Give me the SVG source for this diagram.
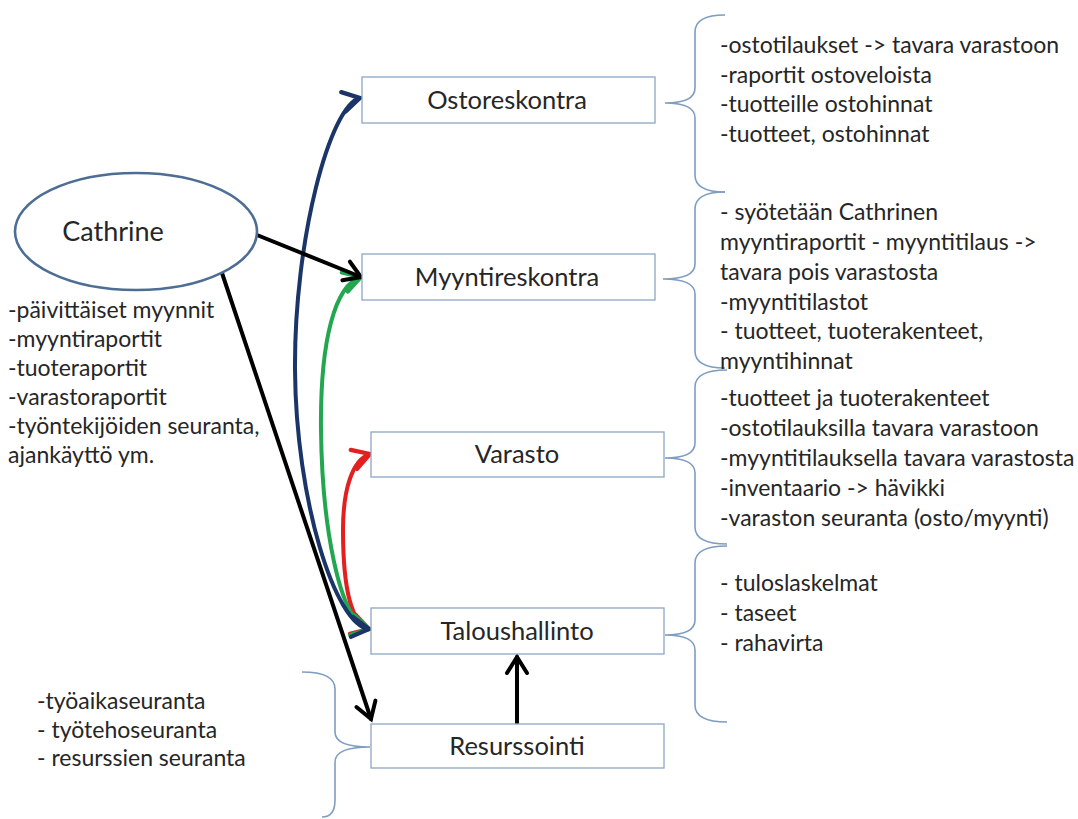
<svg xmlns="http://www.w3.org/2000/svg" width="1078" height="819" viewBox="0 0 1078 819">
  <style>
    .txt { font-family: Lato, "Liberation Sans", sans-serif; font-size: 23px; fill: #262626; }
    .lbl { font-family: Lato, "Liberation Sans", sans-serif; font-size: 25.5px; fill: #262626; text-anchor: middle; }
    .box { fill: #ffffff; stroke: #8ea6c4; stroke-width: 1.3; }
    .brace { fill: none; stroke: #7f9dc0; stroke-width: 1.6; }
    .arr { fill: none; stroke-width: 4; stroke-linecap: round; }
  </style>
  <defs>
    <marker id="headK" markerUnits="userSpaceOnUse" viewBox="-24 -16 32 32" markerWidth="32" markerHeight="32" refX="0" refY="0" orient="auto-start-reverse">
      <path d="M-16,-10 L0,0 L-16,10" fill="none" stroke="#000000" stroke-width="4" stroke-linecap="round"/>
    </marker>
    <marker id="headB" markerUnits="userSpaceOnUse" viewBox="-24 -16 32 32" markerWidth="32" markerHeight="32" refX="0" refY="0" orient="auto-start-reverse">
      <path d="M-17,-10 L0,0 L-17,10" fill="none" stroke="#1b3568" stroke-width="4.2" stroke-linecap="round"/>
    </marker>
    <marker id="headG" markerUnits="userSpaceOnUse" viewBox="-24 -16 32 32" markerWidth="32" markerHeight="32" refX="0" refY="0" orient="auto-start-reverse">
      <path d="M-17,-10 L0,0 L-17,10" fill="none" stroke="#22a64f" stroke-width="4.2" stroke-linecap="round"/>
    </marker>
    <marker id="headR" markerUnits="userSpaceOnUse" viewBox="-24 -16 32 32" markerWidth="32" markerHeight="32" refX="0" refY="0" orient="auto-start-reverse">
      <path d="M-17,-10 L0,0 L-17,10" fill="none" stroke="#e3201f" stroke-width="4.2" stroke-linecap="round"/>
    </marker>
  </defs>

  <rect width="1078" height="819" fill="#ffffff"/>

  <!-- brackets tying each module to its notes -->
  <g id="braces">
    <path class="brace" d="M725,15 Q695,15 695,32 L695,88 Q695,103 665,103 Q695,103 695,118 L695,175 Q695,192 725,192"/>
    <path class="brace" d="M725,192 Q695,192 695,209 L695,264 Q695,279 663,279 Q695,279 695,294 L695,351 Q695,368 725,368"/>
    <path class="brace" d="M727,370 Q695,370 695,387 L695,443 Q695,458 665,458 Q695,458 695,473 L695,527 Q695,544 727,544"/>
    <path class="brace" d="M727,546 Q695,546 695,563 L695,620 Q695,635 665,635 Q695,635 695,650 L695,705 Q695,722 727,722"/>
    <path class="brace" d="M302,672 Q335,672 335,689 L335,732 Q335,747 370,747 Q335,747 335,762 L335,800 Q335,817 322,817"/>
  </g>

  <!-- connectors -->
  <g id="connectors">
    <path class="arr" stroke="#000000" d="M222,273 L371,719" marker-end="url(#headK)"/>
    <path class="arr" stroke="#e3201f" d="M370,454 C352,460 343,490 343,530 C343,590 352,624 369,629" marker-start="url(#headR)" marker-end="url(#headR)"/>
    <path class="arr" stroke="#22a64f" d="M361,277 C335,285 320,340 321,430 C322,520 338,622 369,629" marker-start="url(#headG)" marker-end="url(#headG)"/>
    <path class="arr" stroke="#1b3568" d="M360,98 C330,105 294,240 295,370 C296,500 335,625 369,629" marker-start="url(#headB)" marker-end="url(#headB)"/>
    <path class="arr" stroke="#000000" d="M257,235 L361,277" marker-end="url(#headK)"/>
    <path class="arr" stroke="#000000" d="M517,723 L517,657" marker-end="url(#headK)"/>
  </g>

  <!-- nodes -->
  <g id="cathrine">
    <ellipse cx="136" cy="231.5" rx="121" ry="58.5" fill="#ffffff" stroke="#4d6d94" stroke-width="2.6"/>
    <text class="lbl" x="113" y="241" style="font-size:27px">Cathrine</text>
  </g>
  <g id="ostoreskontra">
    <rect class="box" x="362" y="77" width="293" height="46"/>
    <text class="lbl" x="507" y="109">Ostoreskontra</text>
  </g>
  <g id="myyntireskontra">
    <rect class="box" x="362" y="254" width="293" height="46"/>
    <text class="lbl" x="507" y="286">Myyntireskontra</text>
  </g>
  <g id="varasto">
    <rect class="box" x="371" y="432" width="293" height="45"/>
    <text class="lbl" x="517" y="463">Varasto</text>
  </g>
  <g id="taloushallinto">
    <rect class="box" x="371" y="608" width="293" height="46"/>
    <text class="lbl" x="517" y="640">Taloushallinto</text>
  </g>
  <g id="resurssointi">
    <rect class="box" x="371" y="724" width="293" height="44"/>
    <text class="lbl" x="517" y="755">Resurssointi</text>
  </g>

  <!-- notes -->
  <g id="notes-cathrine">
    <text class="txt" x="8" y="318">-päivittäiset myynnit</text>
    <text class="txt" x="8" y="347">-myyntiraportit</text>
    <text class="txt" x="8" y="376">-tuoteraportit</text>
    <text class="txt" x="8" y="405">-varastoraportit</text>
    <text class="txt" x="8" y="434">-työntekijöiden seuranta,</text>
    <text class="txt" x="8" y="463">ajankäyttö ym.</text>
  </g>
  <g id="notes-ostoreskontra">
    <text class="txt" x="720" y="53">-ostotilaukset -&gt; tavara varastoon</text>
    <text class="txt" x="720" y="83">-raportit ostoveloista</text>
    <text class="txt" x="720" y="112">-tuotteille ostohinnat</text>
    <text class="txt" x="720" y="142">-tuotteet, ostohinnat</text>
  </g>
  <g id="notes-myyntireskontra">
    <text class="txt" x="720" y="220">- syötetään Cathrinen</text>
    <text class="txt" x="720" y="250">myyntiraportit - myyntitilaus -&gt;</text>
    <text class="txt" x="720" y="280">tavara pois varastosta</text>
    <text class="txt" x="720" y="310">-myyntitilastot</text>
    <text class="txt" x="720" y="339">- tuotteet, tuoterakenteet,</text>
    <text class="txt" x="720" y="369">myyntihinnat</text>
  </g>
  <g id="notes-varasto">
    <text class="txt" x="720" y="406">-tuotteet ja tuoterakenteet</text>
    <text class="txt" x="720" y="436">-ostotilauksilla tavara varastoon</text>
    <text class="txt" x="720" y="466">-myyntitilauksella tavara varastosta</text>
    <text class="txt" x="720" y="496">-inventaario -&gt; hävikki</text>
    <text class="txt" x="720" y="526">-varaston seuranta (osto/myynti)</text>
  </g>
  <g id="notes-taloushallinto">
    <text class="txt" x="720" y="591">- tuloslaskelmat</text>
    <text class="txt" x="720" y="621">- taseet</text>
    <text class="txt" x="720" y="651">- rahavirta</text>
  </g>
  <g id="notes-resurssointi">
    <text class="txt" x="37" y="709">-työaikaseuranta</text>
    <text class="txt" x="37" y="738">- työtehoseuranta</text>
    <text class="txt" x="37" y="766">- resurssien  seuranta</text>
  </g>
</svg>
